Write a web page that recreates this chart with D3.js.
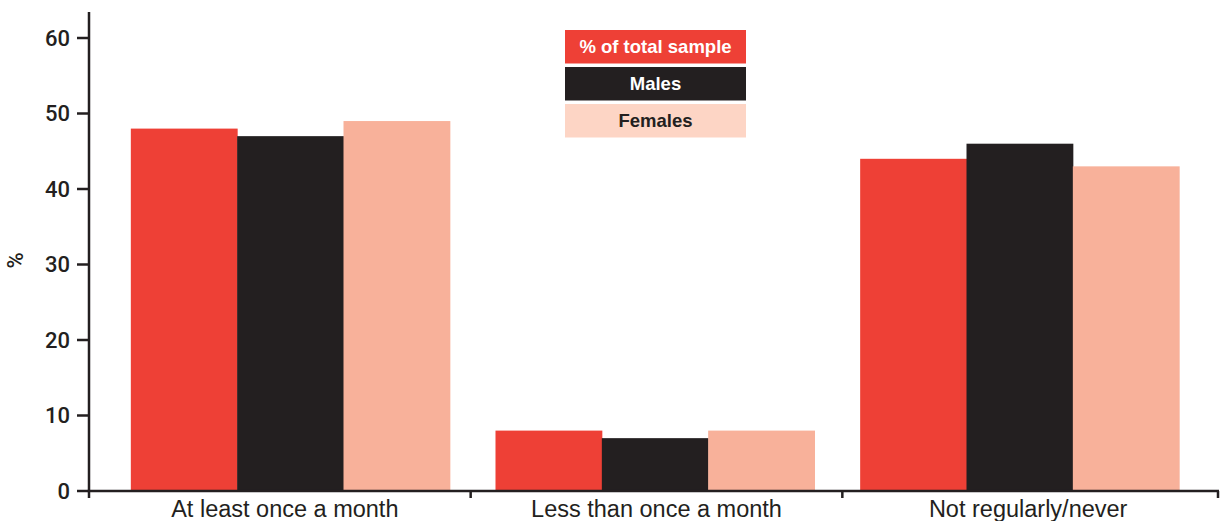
<!DOCTYPE html>
<html>
<head>
<meta charset="utf-8">
<script src="https://cdn.jsdelivr.net/npm/d3@7"></script>
<style>
  html, body { margin: 0; padding: 0; background: #fff; }
  svg { display: block; }
</style>
</head>
<body>
<svg id="chart" width="1227" height="521"></svg>
<script>
// Frequency categories and the share (%) in each group
const categories = ["At least once a month", "Less than once a month", "Not regularly/never"];
const seriesNames = ["% of total sample", "Males", "Females"];
const totalSample = [48, 8, 44];
const males = [47, 7, 46];
const females = [49, 8, 43];
const yTicks = [0, 10, 20, 30, 40, 50, 60];

const seriesValues = [totalSample, males, females];
const barColors = ["#ee4036", "#231f20", "#f8b19a"];
const legendFill = ["#ee4036", "#231f20", "#fdd5c5"];
const legendText = ["#ffffff", "#ffffff", "#231f20"];
const ink = "#231f20";

const svg = d3.select("#chart");

const axisLeft = 89, axisRight = 1219, baseY = 491;

const y = d3.scaleLinear().domain([0, 60]).range([baseY, 38]);

// Scale for the bar clusters
const x0 = d3.scaleBand()
  .domain(categories)
  .range([108, 1202])
  .paddingInner(0.1252)
  .paddingOuter(0.1252 / 2);

const x1 = d3.scaleBand()
  .domain(seriesNames)
  .range([0, x0.bandwidth()])
  .padding(0);

// Scale for category labels and separator ticks
const xLab = d3.scaleBand()
  .domain(categories)
  .range([99, 1214])
  .padding(0);

// Bars
const groups = svg.append("g")
  .selectAll("g")
  .data(categories)
  .join("g")
  .attr("transform", d => `translate(${x0(d)},0)`);

groups.selectAll("rect")
  .data((c, ci) => seriesNames.map((s, si) => ({ s, si, v: seriesValues[si][ci] })))
  .join("rect")
  .attr("x", d => x1(d.s))
  .attr("width", x1.bandwidth() + 0.5)
  .attr("y", d => y(d.v))
  .attr("height", d => baseY - y(d.v))
  .attr("fill", d => barColors[d.si]);

// Y axis
const yAxis = svg.append("g").attr("transform", `translate(${axisLeft},0)`);
yAxis.append("line")
  .attr("x1", 0).attr("x2", 0)
  .attr("y1", 12).attr("y2", baseY)
  .attr("stroke", ink).attr("stroke-width", 2.5);
const yt = yAxis.selectAll("g.tick").data(yTicks).join("g")
  .attr("class", "tick")
  .attr("transform", d => `translate(0,${y(d)})`);
yt.append("line").attr("x1", -12).attr("x2", 0)
  .attr("stroke", ink).attr("stroke-width", 2.5);
yt.append("text")
  .attr("x", -19).attr("dy", "0.36em")
  .attr("text-anchor", "end")
  .attr("font-family", "Roboto, 'Liberation Sans', sans-serif")
  .attr("font-weight", 500)
  .attr("font-size", 22)
  .attr("fill", ink)
  .text(d => d);

svg.append("text")
  .attr("transform", `translate(23,${y(30) - 4}) rotate(-90)`)
  .attr("text-anchor", "middle")
  .attr("font-family", "Roboto, 'Liberation Sans', sans-serif")
  .attr("font-weight", 500)
  .attr("font-size", 22)
  .attr("fill", ink)
  .text("%");

// X axis: baseline with ticks at the ends and between categories
const xTickPos = [axisLeft]
  .concat(categories.slice(1).map(c => xLab(c)))
  .concat([axisRight - 1]);

svg.append("line")
  .attr("x1", axisLeft - 1.25).attr("x2", axisRight)
  .attr("y1", baseY).attr("y2", baseY)
  .attr("stroke", ink).attr("stroke-width", 2.5);
svg.append("g").selectAll("line").data(xTickPos).join("line")
  .attr("x1", d => d).attr("x2", d => d)
  .attr("y1", baseY).attr("y2", baseY + 7)
  .attr("stroke", ink).attr("stroke-width", 2.5);

svg.append("g").selectAll("text").data(categories).join("text")
  .attr("x", d => xLab(d) + xLab.bandwidth() / 2)
  .attr("y", 517)
  .attr("text-anchor", "middle")
  .attr("font-family", "'Liberation Sans', Arial, sans-serif")
  .attr("font-size", 23.5)
  .attr("fill", ink)
  .text(d => d);

// Legend
const legend = svg.append("g").attr("transform", "translate(565,30)");
const li = legend.selectAll("g").data(seriesNames).join("g")
  .attr("transform", (d, i) => `translate(0,${i * 37})`);
li.append("rect")
  .attr("width", 181).attr("height", 33.5)
  .attr("fill", (d, i) => legendFill[i]);
li.append("text")
  .attr("x", 90.5).attr("y", 16.75).attr("dy", "0.36em")
  .attr("text-anchor", "middle")
  .attr("font-family", "'Liberation Sans', Arial, sans-serif")
  .attr("font-weight", "bold")
  .attr("font-size", 18.5)
  .attr("fill", (d, i) => legendText[i])
  .text(d => d);
</script>
</body>
</html>
